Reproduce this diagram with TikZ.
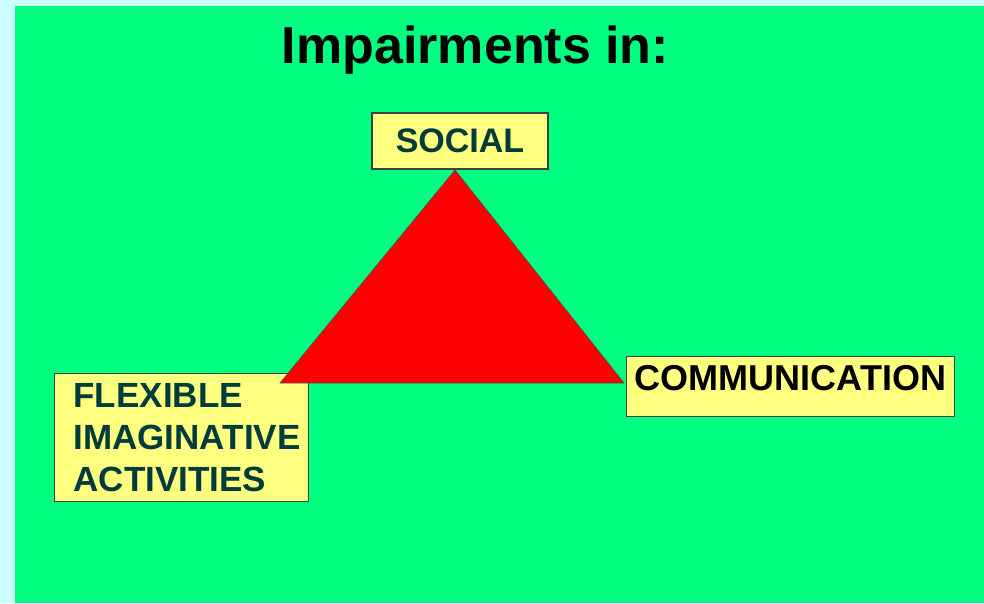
\documentclass[tikz,border=0pt]{standalone}
\usepackage{fontspec}
\setmainfont{Liberation Sans}
\definecolor{paper}{HTML}{CCFFFF}
\definecolor{slidegreen}{HTML}{00FF80}
\definecolor{boxyellow}{HTML}{FFFF80}
\definecolor{darkteal}{HTML}{003C3C}

\tikzset{
    labelbox/.style={draw=black!75, line width=1.2pt, fill=boxyellow, inner sep=0pt,
        font=\fontsize{34}{42}\selectfont\bfseries},
}

\begin{document}
\begin{tikzpicture}[x=1pt,y=-1pt]
    \fill[paper] (0,0) rectangle (984,603);
    \fill[slidegreen] (15,6) rectangle (984,603);
    \node[anchor=base, font=\fontsize{52}{60}\selectfont\bfseries] (title) at (475.5,63) {Impairments in:};
    \node[labelbox, anchor=north west, minimum width=254pt, minimum height=128pt,
        text width=216pt, align=left, text=darkteal, font=\fontsize{35}{42}\selectfont\bfseries] (flex) at (54,373) {FLEXIBLE\\IMAGINATIVE\\ACTIVITIES};
    \coordinate (apex) at (455,170);
    \coordinate (leftcorner) at (280,383);
    \coordinate (rightcorner) at (624,383);
    \filldraw[fill=red, draw=black!70, line width=0.6pt] (apex) -- (leftcorner) -- (rightcorner) -- cycle;
    \node[labelbox, minimum width=176pt, minimum height=56pt, text=darkteal] (social) at (460,141) {SOCIAL};
    \node[labelbox, anchor=north west, minimum width=328pt, text height=34pt, text depth=26pt,
        font=\fontsize{36}{42}\selectfont\bfseries] (comm) at (626,356) {COMMUNICATION};
\end{tikzpicture}
\end{document}
